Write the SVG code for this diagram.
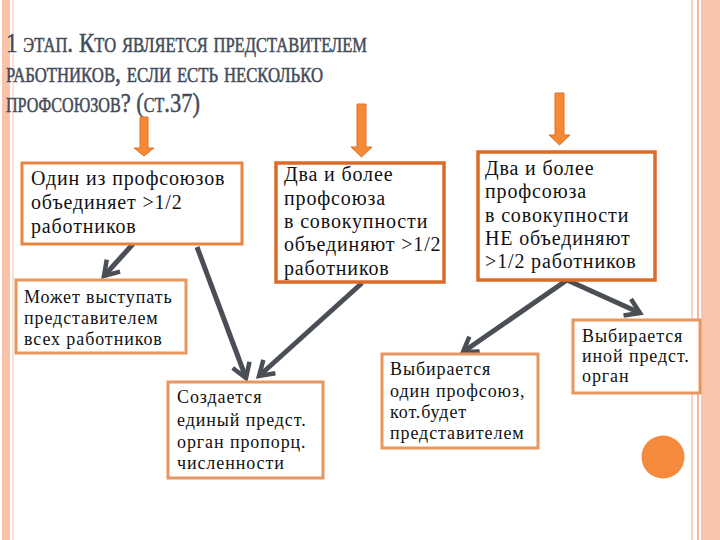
<svg xmlns="http://www.w3.org/2000/svg" width="720" height="540" viewBox="0 0 720 540">
<defs>
<style>
.title{font-size:28px;font-variant:small-caps;fill:#444B59;stroke:#444B59;stroke-width:0.5}
.big{font-size:20px;letter-spacing:0.85px;fill:#111}
.sm{font-size:18px;letter-spacing:0.9px;fill:#111}
.bx1{fill:#fff;stroke:#E8843E;stroke-width:3}
.bx2{fill:#fff;stroke:#DD6B28;stroke-width:3.5}
.bx3{fill:#fff;stroke:#E6965E;stroke-width:3}
.con{stroke:#4A4E55;stroke-width:5;fill:none}
.oarr{fill:#F58A36;stroke:#E0702A;stroke-width:1}
</style>
<marker id="ah" viewBox="0 0 24 24" refX="20" refY="12" markerWidth="24" markerHeight="24" markerUnits="userSpaceOnUse" orient="auto">
<path d="M6,3 L20,12 L6,21" fill="none" stroke="#4A4E55" stroke-width="4.5" stroke-linejoin="miter"/>
</marker>
</defs>
<rect width="720" height="540" fill="#fff"/>
<g id="frame">
<rect x="2" y="0" width="8" height="540" fill="#F9C3AA"/>
<line x1="13" y1="0" x2="13" y2="540" stroke="#FBD9CA" stroke-width="1.5"/>
<line x1="692" y1="0" x2="692" y2="540" stroke="#F8D3C2" stroke-width="2"/>
<line x1="698" y1="0" x2="698" y2="540" stroke="#F5B89E" stroke-width="2"/>
<rect x="701" y="0" width="19" height="540" fill="#FAC5AD"/>
</g>
<g id="title">
<text class="title" font-family="Liberation Serif" x="6" y="52" textLength="361" lengthAdjust="spacingAndGlyphs">1 этап. Кто является представителем</text>
<text class="title" font-family="Liberation Serif" x="6" y="82" textLength="317" lengthAdjust="spacingAndGlyphs">работников, если есть несколько</text>
<text class="title" font-family="Liberation Serif" x="6" y="112" textLength="194" lengthAdjust="spacingAndGlyphs">профсоюзов? (ст.37)</text>
</g>
<g id="orange-arrows">
<path class="oarr" d="M140,117 h8 v31 h6 l-10,8 l-10,-8 h6 z"/>
<path class="oarr" d="M357,104 h9 v43 h6 l-10.5,10 l-10.5,-10 h6 z"/>
<path class="oarr" d="M555,93 h9 v42 h6 l-10.5,10 l-10.5,-10 h6 z"/>
</g>
<g id="connectors">
<line class="con" x1="133" y1="244" x2="104" y2="276" marker-end="url(#ah)"/>
<line class="con" x1="197" y1="247" x2="246" y2="378" marker-end="url(#ah)"/>
<line class="con" x1="362" y1="283" x2="259" y2="376" marker-end="url(#ah)"/>
<line class="con" x1="567" y1="280" x2="463" y2="352" marker-end="url(#ah)"/>
<line class="con" x1="567" y1="280" x2="640" y2="313" marker-end="url(#ah)"/>
</g>
<g id="nodeA">
<rect class="bx1" x="22" y="163" width="220" height="81"/>
<text class="big" font-family="Liberation Serif" x="31" y="185">Один из профсоюзов</text>
<text class="big" font-family="Liberation Serif" x="31" y="209">объединяет &gt;1/2</text>
<text class="big" font-family="Liberation Serif" x="31" y="233">работников</text>
</g>
<g id="nodeB">
<rect class="bx3" x="16" y="280" width="170" height="73"/>
<text class="sm" font-family="Liberation Serif" x="24" y="303">Может выступать</text>
<text class="sm" font-family="Liberation Serif" x="24" y="324">представителем</text>
<text class="sm" font-family="Liberation Serif" x="24" y="345">всех работников</text>
</g>
<g id="nodeC">
<rect class="bx2" x="276" y="163" width="168" height="119"/>
<text class="big" font-family="Liberation Serif" x="284" y="181">Два и более</text>
<text class="big" font-family="Liberation Serif" x="284" y="205">профсоюза</text>
<text class="big" font-family="Liberation Serif" x="284" y="228">в совокупности</text>
<text class="big" font-family="Liberation Serif" x="284" y="251">объединяют &gt;1/2</text>
<text class="big" font-family="Liberation Serif" x="284" y="275">работников</text>
</g>
<g id="nodeD">
<rect class="bx2" x="478" y="152" width="177" height="128"/>
<text class="big" font-family="Liberation Serif" x="485" y="175">Два и более</text>
<text class="big" font-family="Liberation Serif" x="485" y="198">профсоюза</text>
<text class="big" font-family="Liberation Serif" x="485" y="222">в совокупности</text>
<text class="big" font-family="Liberation Serif" x="485" y="245">НЕ объединяют</text>
<text class="big" font-family="Liberation Serif" x="485" y="268">&gt;1/2 работников</text>
</g>
<g id="nodeE">
<rect class="bx3" x="573" y="320" width="127" height="73"/>
<text class="sm" font-family="Liberation Serif" x="582" y="342">Выбирается</text>
<text class="sm" font-family="Liberation Serif" x="582" y="362">иной предст.</text>
<text class="sm" font-family="Liberation Serif" x="582" y="382">орган</text>
</g>
<g id="nodeF">
<rect class="bx3" x="382" y="354" width="156" height="94"/>
<text class="sm" font-family="Liberation Serif" x="390" y="375">Выбирается</text>
<text class="sm" font-family="Liberation Serif" x="390" y="397">один профсоюз,</text>
<text class="sm" font-family="Liberation Serif" x="390" y="418">кот.будет</text>
<text class="sm" font-family="Liberation Serif" x="390" y="439">представителем</text>
</g>
<g id="nodeG">
<rect class="bx3" x="168" y="382" width="155" height="96"/>
<text class="sm" font-family="Liberation Serif" x="177" y="403">Создается</text>
<text class="sm" font-family="Liberation Serif" x="177" y="426">единый предст.</text>
<text class="sm" font-family="Liberation Serif" x="177" y="448">орган пропорц.</text>
<text class="sm" font-family="Liberation Serif" x="177" y="469">численности</text>
</g>
<circle id="dot" cx="663" cy="457" r="21.5" fill="#F58A3C"/>
</svg>
